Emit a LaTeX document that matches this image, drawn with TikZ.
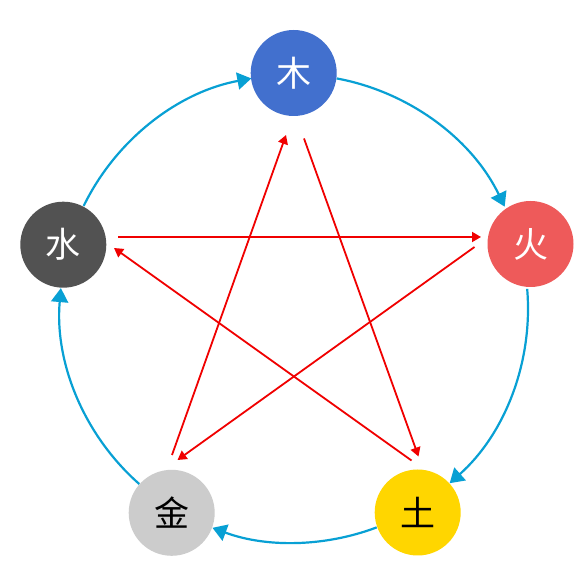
\documentclass[tikz,border=0pt]{standalone}
\usepackage{fontspec}
\newfontfamily\cjk{Noto Sans CJK SC}
\usetikzlibrary{arrows.meta,calc}
\definecolor{cycleblue}{RGB}{8,160,212}
\definecolor{woodc}{RGB}{66,112,206}
\definecolor{firec}{RGB}{238,90,90}
\definecolor{earthc}{RGB}{255,214,0}
\definecolor{metalc}{RGB}{204,204,204}
\definecolor{waterc}{RGB}{82,82,82}
\definecolor{starred}{RGB}{240,0,0}
\begin{document}
\begin{tikzpicture}[x=1pt,y=1pt,
  elem/.style={circle,minimum size=86pt,inner sep=0pt,font=\cjk\fontsize{35}{35}\selectfont},
  cyc/.style={draw=cycleblue,line width=2.2pt,-{Triangle[length=14pt,width=17pt]}},
  ke/.style={draw=starred,line width=1.8pt,-{Triangle[length=9pt,width=10pt]}}]
\useasboundingbox (0,0) rectangle (588,588);
\fill[white] (0,0) rectangle (588,588);
\coordinate (c) at (294,279.5);
\def\R{234}
% cycle arcs
\draw[cyc] ($(c)+(79.5:\R)$) arc (79.5:25.8:\R);
\draw[cyc] ($(c)+(4.8:\R)$) arc (4.8:-48.3:\R);
\draw[cyc] ($(c)+(-69.3:\R)$) arc (-69.3:-110.4:\R);
\draw[cyc] ($(c)+(228.6:\R)$) arc (228.6:175:\R);
\draw[cyc] ($(c)+(154:\R)$) arc (154:100.5:\R);
% nodes
\node[elem,fill=woodc,text=white] (mu) at (293.7,515) {木};
\node[elem,fill=firec,text=white] (huo) at (530.5,344) {火};
\node[elem,fill=earthc,text=black] (tu) at (417.7,75.5) {土};
\node[elem,fill=metalc,text=black] (jin) at (171.7,75.2) {金};
\node[elem,fill=waterc,text=white] (shui) at (63.3,343.3) {水};
% star endpoints
\coordinate (s1a) at (118,351);   \coordinate (s1b) at (481,351);
\coordinate (s2a) at (474.5,341); \coordinate (s2b) at (177.5,128);
\coordinate (s3a) at (411.5,127.5); \coordinate (s3b) at (114,340);
\coordinate (s4a) at (304,449.5); \coordinate (s4b) at (418.5,131.5);
\coordinate (s5a) at (172,133);   \coordinate (s5b) at (286,453);
\draw[ke] (s1a) -- (s1b);
\draw[ke] (s2a) -- (s2b);
\draw[ke] (s3a) -- (s3b);
\draw[ke] (s4a) -- (s4b);
\draw[ke] (s5a) -- (s5b);
\end{tikzpicture}
\end{document}
